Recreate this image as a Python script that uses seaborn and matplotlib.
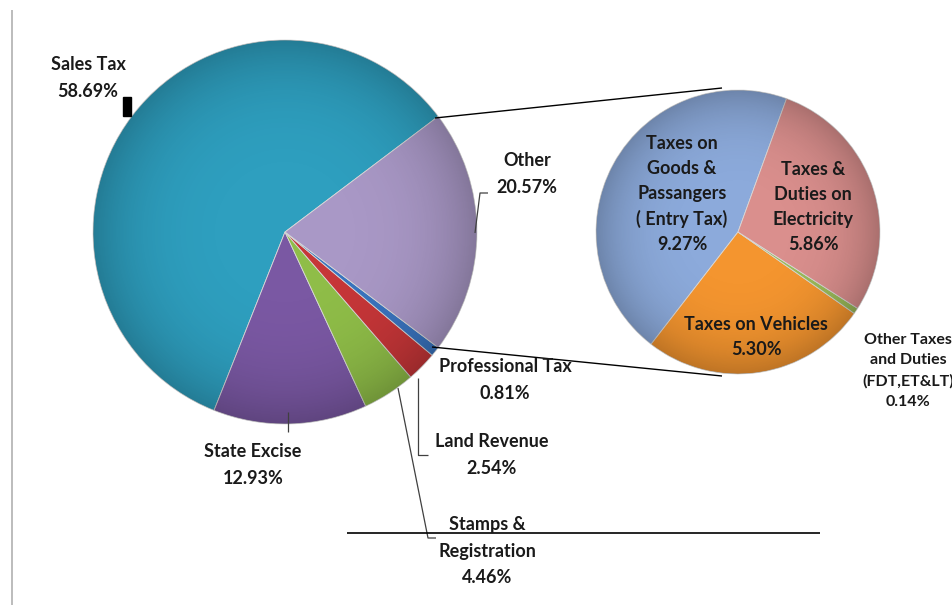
import matplotlib
matplotlib.use("Agg")
import matplotlib.pyplot as plt
import numpy as np
import seaborn as sns

# main pie (counterclockwise from the top edge of "Other")
main_labels = ["Sales Tax", "State Excise", "Stamps &\nRegistration", "Land Revenue",
               "Professional Tax", "Other"]
main_values = [58.69, 12.93, 4.46, 2.54, 0.81, 20.57]
main_colors = ["#2e9fbf", "#7a58a3", "#8fbd48", "#c63638", "#3a74bf", "#a998c6"]

# breakdown of "Other"
sub_labels = ["Taxes on\nGoods &\nPassangers\n( Entry Tax)", "Taxes on Vehicles",
              "Other Taxes\nand Duties\n(FDT,ET&LT)", "Taxes &\nDuties on\nElectricity"]
sub_values = [9.27, 5.30, 0.14, 5.86]
sub_colors = ["#8caadb", "#f4952f", "#9bbb59", "#da8f8d"]

sns.set_theme(style="white")
plt.rcParams['font.family'] = ['Lato', 'DejaVu Sans']

W, H = 952, 605
fig = plt.figure(figsize=(9.52, 6.05), dpi=100)
ax = fig.add_axes([0, 0, 1, 1])

def Y(y):
    return H - y

c1, r1 = (285, Y(232)), 192
c2, r2 = (738, Y(232)), 142

ax.pie(main_values, colors=main_colors, startangle=main_values[-1] / 100 * 180,
       center=c1, radius=r1, counterclock=True, frame=True,
       wedgeprops=dict(edgecolor="#d8d8d8", linewidth=0.6))
ax.pie(sub_values, colors=sub_colors, startangle=70,
       center=c2, radius=r2, counterclock=True, frame=True,
       wedgeprops=dict(edgecolor="#d8d8d8", linewidth=0.6))
ax.set_xlim(0, W)
ax.set_ylim(0, H)
ax.set_aspect('equal')
ax.axis('off')

# soft darker rim, like the bevel in the original
for (cx, cy), r in [(c1, r1), (c2, r2)]:
    g = np.linspace(-1, 1, 300)
    xx, yy = np.meshgrid(g, g)
    d = np.clip(np.hypot(xx, yy), 0, 1)
    shade = np.zeros((300, 300, 4))
    shade[..., 3] = 0.22 * d ** 4
    im = ax.imshow(shade, extent=(cx - r, cx + r, cy - r, cy + r), origin='lower',
                   zorder=2, interpolation='bilinear')
    im.set_clip_path(plt.Circle((cx, cy), r, transform=ax.transData))
ax.set_xlim(0, W)
ax.set_ylim(0, H)

def line(pts, color="black", lw=1.0):
    ax.plot([p[0] for p in pts], [Y(p[1]) for p in pts], color=color, lw=lw,
            solid_capstyle='butt', zorder=3)

# connectors between the pies
line([(435, 118), (722, 88)])
line([(432, 347), (722, 376)])

# leader lines
line([(475, 233), (480, 193), (488, 193)], color="#404040", lw=0.9)
line([(288, 412), (288, 432)], color="#404040", lw=0.9)
line([(418, 378), (418, 455), (428, 455)], color="#404040", lw=0.9)
line([(398, 388), (428, 538), (436, 538)], color="#404040", lw=0.9)

# odd marks from the original
ax.add_patch(plt.Rectangle((123, Y(116)), 8, 19, color="black", zorder=3))
line([(347, 533), (820, 533)], lw=1.2)
line([(12, 10), (12, 605)], color="#b0b0b0", lw=1.2)

fs = 13
def label(x, y, s, size=fs, ls=1.65):
    ax.text(x, Y(y), s, ha='center', va='center', ma='center', fontsize=size,
            fontweight='bold', color="#1a1a1a", linespacing=ls, zorder=4)

pct = lambda v: f"{v:.2f}%"
label(88, 78, f"{main_labels[0]}\n{pct(main_values[0])}")
label(253, 465, f"{main_labels[1]}\n{pct(main_values[1])}")
label(487, 551, f"{main_labels[2]}\n{pct(main_values[2])}")
label(492, 455, f"{main_labels[3]}\n{pct(main_values[3])}")
label(505, 380, f"{main_labels[4]}\n{pct(main_values[4])}")
label(527, 174, f"{main_labels[5]}\n{pct(main_values[5])}")

label(682, 194, f"{sub_labels[0]}\n{pct(sub_values[0])}", ls=1.55)
label(756, 337, f"{sub_labels[1]}\n{pct(sub_values[1])}", ls=1.55)
label(908, 371, f"{sub_labels[2]}\n{pct(sub_values[2])}", size=11.5, ls=1.6)
label(813, 207, f"{sub_labels[3]}\n{pct(sub_values[3])}", ls=1.55)

fig.savefig("out.png", dpi=100)
